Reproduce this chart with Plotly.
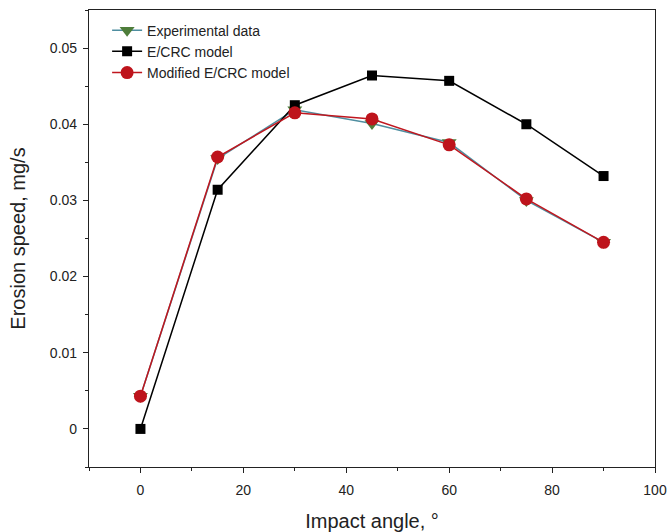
import plotly.graph_objects as go

angles = [0, 15, 30, 45, 60, 75, 90]
experimental = [0.0043, 0.0355, 0.0419, 0.0401, 0.0376, 0.0300, 0.0245]
ecrc = [0.0, 0.0314, 0.0425, 0.0464, 0.0457, 0.0400, 0.0332]
modified = [0.0043, 0.0357, 0.0415, 0.0407, 0.0373, 0.0302, 0.0245]

x_ticks = [0, 20, 40, 60, 80, 100]
y_ticks = [0, 0.01, 0.02, 0.03, 0.04, 0.05]
y_tick_labels = ["0", "0.01", "0.02", "0.03", "0.04", "0.05"]

font_family = "Liberation Sans, Arial, sans-serif"

fig = go.Figure()
fig.add_trace(go.Scatter(
    x=angles, y=experimental, name="Experimental data", mode="lines+markers",
    line=dict(color="#4f8ea0", width=1.5),
    marker=dict(symbol="triangle-down", size=13, color="#4e7d3a"),
))
fig.add_trace(go.Scatter(
    x=angles, y=ecrc, name="E/CRC model", mode="lines+markers",
    line=dict(color="#000000", width=1.5),
    marker=dict(symbol="square", size=10, color="#000000"),
))
fig.add_trace(go.Scatter(
    x=angles, y=modified, name="Modified E/CRC model", mode="lines+markers",
    line=dict(color="#c0161e", width=1.5),
    marker=dict(symbol="circle", size=13, color="#be141c"),
))

fig.update_layout(
    width=667, height=532,
    margin=dict(l=89, r=12, t=10, b=65),
    paper_bgcolor="white", plot_bgcolor="white",
    font=dict(family=font_family, size=14, color="#222222"),
    showlegend=True,
    legend=dict(x=0.032, y=0.99, xanchor="left", yanchor="top",
                bgcolor="rgba(0,0,0,0)", font=dict(size=14, color="#222222"),
                tracegroupgap=0, itemsizing="trace"),
    xaxis=dict(
        range=[-10, 100], tickvals=x_ticks, ticks="outside", ticklen=5,
        tickwidth=1, tickcolor="#222222", ticklabelstandoff=5,
        minor=dict(dtick=10, tick0=0, ticks="outside", ticklen=3, tickcolor="#222222"),
        showline=True, linecolor="#222222", linewidth=1.2, mirror=True,
        showgrid=False, zeroline=False, automargin=False,
        title=dict(text="Impact angle, °", font=dict(size=20), standoff=18),
        tickfont=dict(size=14),
    ),
    yaxis=dict(
        range=[-0.005, 0.055], tickvals=y_ticks, ticktext=y_tick_labels,
        ticks="outside", ticklen=5, tickwidth=1, tickcolor="#222222",
        ticklabelstandoff=3,
        minor=dict(dtick=0.005, tick0=0, ticks="outside", ticklen=3, tickcolor="#222222"),
        showline=True, linecolor="#222222", linewidth=1.2, mirror=True,
        showgrid=False, zeroline=False, automargin=False,
        title=dict(text="Erosion speed, mg/s", font=dict(size=20), standoff=18),
        tickfont=dict(size=14),
    ),
)

fig.write_html("out.html", config={"displayModeBar": False},
               post_script="document.body.style.margin='0';document.body.style.overflow='hidden';")
